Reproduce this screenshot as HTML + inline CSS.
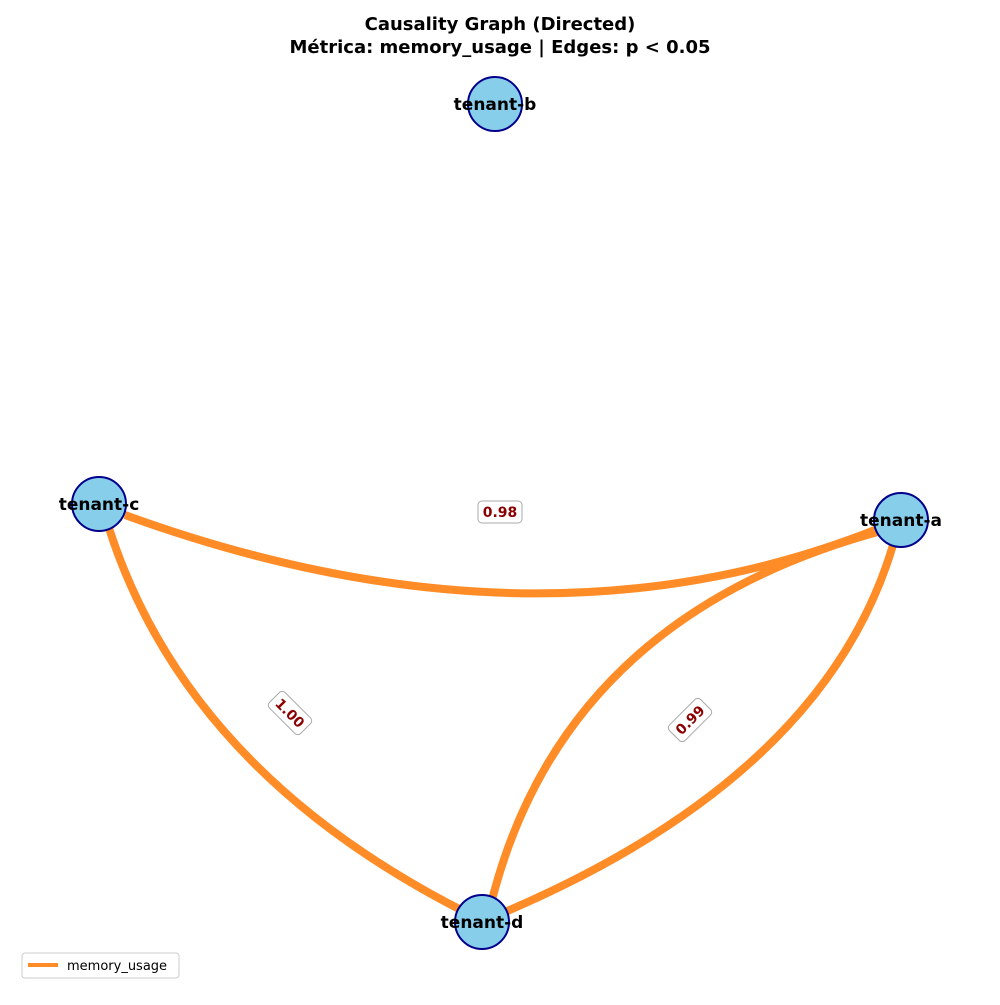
<!DOCTYPE html>
<html><head><style>body{margin:0;background:#fff}</style></head><body>
<svg width="1000" height="1000" xmlns="http://www.w3.org/2000/svg" font-family="DejaVu Sans, Liberation Sans, sans-serif">
<rect width="1000" height="1000" fill="#fff"/>
<text x="500" y="30" text-anchor="middle" font-size="18" font-weight="bold">Causality Graph (Directed)</text>
<text x="500" y="53" text-anchor="middle" font-size="18" font-weight="bold">Métrica: memory_usage | Edges: p &lt; 0.05</text>
<g fill="none" stroke="#ff8c26" stroke-width="8">
<path d="M125,515 Q538,665 880,528"/>
<path d="M108,525 Q185,770 465,912"/>
<path d="M885,530 Q565,615 492,900"/>
<path d="M893,545 Q825,775 505,912"/>
</g>
<g fill="#87ceeb" stroke="#00008b" stroke-width="2">
<circle cx="495" cy="104" r="27"/>
<circle cx="99" cy="504" r="27"/>
<circle cx="901" cy="520" r="27"/>
<circle cx="482" cy="922" r="27"/>
</g>
<g font-size="17" font-weight="bold" text-anchor="middle">
<text x="495" y="110">tenant-b</text>
<text x="99" y="510">tenant-c</text>
<text x="901" y="526">tenant-a</text>
<text x="482" y="928">tenant-d</text>
</g>
<g font-size="14" font-weight="bold" fill="#8b0000" text-anchor="middle">
<rect x="478" y="501" width="44" height="22" rx="4" fill="#fff" stroke="#aaa"/>
<text x="500" y="517">0.98</text>
<g transform="translate(290,713) rotate(45)"><rect x="-22" y="-11" width="44" height="22" rx="4" fill="#fff" stroke="#aaa"/><text x="0" y="5">1.00</text></g>
<g transform="translate(690,720) rotate(-45)"><rect x="-22" y="-11" width="44" height="22" rx="4" fill="#fff" stroke="#aaa"/><text x="0" y="5">0.99</text></g>
</g>
<rect x="22" y="953" width="157" height="25" rx="3" fill="#fff" stroke="#ccc"/>
<line x1="28" y1="965" x2="58" y2="965" stroke="#ff8c26" stroke-width="4"/>
<text x="67" y="970" font-size="13">memory_usage</text>
</svg>
</body></html>
